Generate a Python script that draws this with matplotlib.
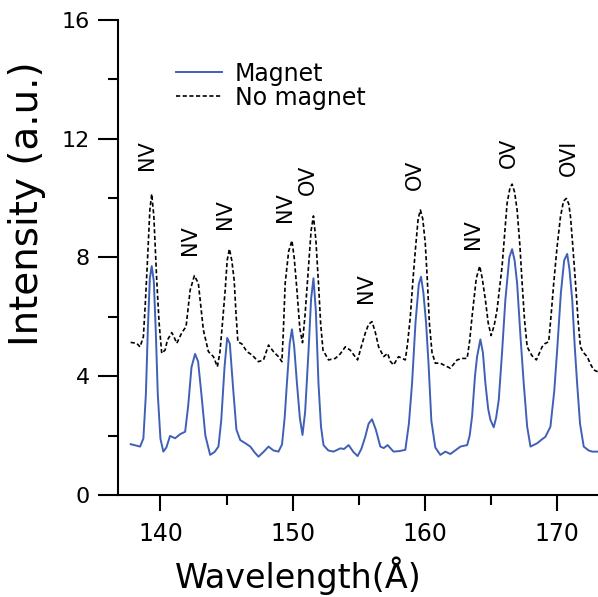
import matplotlib.pyplot as plt
from matplotlib.ticker import MultipleLocator

# Magnet spectrum
wl_magnet = [137.75, 138.2, 138.46, 138.71, 138.9, 139.05, 139.2, 139.34, 139.5, 139.65, 139.8, 140.0,
             140.22, 140.45, 140.73, 141.11, 141.5, 141.87, 142.1, 142.35, 142.62, 142.85, 143.1, 143.4,
             143.76, 144.1, 144.39, 144.6, 144.85, 145.05, 145.25, 145.5, 145.75, 146.04, 146.4, 146.8,
             147.1, 147.42, 147.8, 148.18, 148.55, 148.93, 149.2, 149.4, 149.57, 149.78, 149.95, 150.12,
             150.33, 150.55, 150.75, 150.95, 151.21, 151.4, 151.58, 151.76, 151.96, 152.15, 152.34, 152.7,
             153.1, 153.61, 153.9, 154.24, 154.6, 154.92, 155.2, 155.5, 155.75, 156.01, 156.3, 156.64,
             156.9, 157.19, 157.64, 158.1, 158.53, 158.8, 159.04, 159.3, 159.55, 159.72, 159.9, 160.1,
             160.29, 160.5, 160.8, 161.18, 161.56, 161.94, 162.3, 162.7, 163.21, 163.4, 163.58, 163.8,
             163.96, 164.21, 164.4, 164.59, 164.8, 164.97, 165.22, 165.4, 165.6, 165.85, 166.1, 166.4,
             166.61, 166.8, 166.99, 167.25, 167.49, 167.75, 168.0, 168.5, 168.8, 169.13, 169.51, 169.8,
             170.02, 170.3, 170.55, 170.78, 170.95, 171.16, 171.35, 171.53, 171.75, 172.03, 172.4, 172.67,
             173.1]
int_magnet = [1.71, 1.66, 1.63, 1.90, 3.4, 5.6, 7.3, 7.71, 7.2, 5.5, 3.4, 1.9,
              1.46, 1.6, 1.99, 1.91, 2.05, 2.13, 3.0, 4.3, 4.75, 4.5, 3.4, 2.0,
              1.35, 1.45, 1.63, 2.5, 4.3, 5.29, 5.1, 3.6, 2.2, 1.85, 1.75, 1.63,
              1.45, 1.29, 1.45, 1.63, 1.5, 1.46, 1.7, 2.6, 3.76, 5.1, 5.58, 5.0,
              3.76, 2.6, 2.02, 2.8, 4.88, 6.6, 7.30, 6.2, 3.76, 2.3, 1.68, 1.5,
              1.46, 1.57, 1.55, 1.68, 1.45, 1.31, 1.55, 1.96, 2.4, 2.55, 2.2, 1.63,
              1.58, 1.68, 1.46, 1.48, 1.52, 2.4, 3.76, 5.8, 7.1, 7.35, 6.8, 5.8,
              4.4, 2.5, 1.6, 1.35, 1.46, 1.38, 1.5, 1.63, 1.68, 2.0, 2.64, 4.0,
              4.66, 5.24, 4.8, 3.76, 2.9, 2.53, 2.28, 2.6, 3.20, 4.8, 6.57, 8.0,
              8.28, 7.9, 7.13, 5.3, 3.76, 2.3, 1.63, 1.74, 1.85, 1.96, 2.30, 3.5,
              4.88, 6.8, 7.9, 8.12, 7.6, 6.57, 5.0, 3.76, 2.4, 1.63, 1.5, 1.46,
              1.46]

# No magnet spectrum
wl_nomag = [137.75, 138.2, 138.46, 138.71, 138.85, 139.01, 139.2, 139.34, 139.5, 139.72, 139.9, 140.10,
            140.35, 140.53, 140.86, 141.05, 141.24, 141.62, 141.94, 142.1, 142.25, 142.57, 142.87, 143.05,
            143.25, 143.63, 144.01, 144.31, 144.5, 144.65, 144.9, 145.05, 145.22, 145.4, 145.58, 145.72,
            145.86, 146.16, 146.54, 146.92, 147.42, 147.8, 148.18, 148.55, 148.93, 149.19, 149.3, 149.44,
            149.7, 149.95, 150.12, 150.33, 150.55, 150.75, 150.95, 151.21, 151.4, 151.58, 151.76, 151.96,
            152.12, 152.30, 152.72, 153.23, 153.6, 153.99, 154.36, 154.92, 155.2, 155.50, 155.75, 156.01,
            156.25, 156.51, 156.89, 157.19, 157.4, 157.64, 158.02, 158.3, 158.53, 158.7, 158.91, 159.1,
            159.29, 159.5, 159.67, 159.85, 160.04, 160.2, 160.35, 160.55, 160.8, 161.18, 161.43, 161.94,
            162.45, 162.82, 163.21, 163.4, 163.58, 163.9, 164.16, 164.35, 164.59, 164.8, 165.02, 165.25,
            165.47, 165.85, 166.05, 166.23, 166.45, 166.61, 166.8, 166.99, 167.2, 167.37, 167.55, 167.75,
            168.1, 168.45, 168.88, 169.1, 169.38, 169.55, 169.76, 170.0, 170.27, 170.5, 170.72, 170.9,
            171.03, 171.2, 171.41, 171.6, 171.78, 172.0, 172.29, 172.55, 172.79, 173.1]
int_nomag = [5.14, 5.11, 4.99, 5.33, 6.4, 7.80, 9.6, 10.14, 9.4, 7.24, 5.8, 4.77,
             4.88, 5.22, 5.47, 5.3, 5.11, 5.47, 5.67, 6.3, 6.90, 7.39, 7.13, 6.4,
             5.56, 4.83, 4.66, 4.32, 4.8, 5.56, 6.90, 7.9, 8.29, 7.9, 7.24, 6.1,
             5.16, 5.09, 4.83, 4.72, 4.49, 4.55, 5.05, 4.83, 4.66, 4.49, 5.5, 7.13,
             8.2, 8.57, 8.0, 6.90, 5.6, 5.13, 6.1, 7.69, 8.9, 9.40, 8.6, 7.13,
             5.8, 4.88, 4.55, 4.60, 4.75, 4.99, 4.88, 4.55, 5.0, 5.45, 5.75, 5.84,
             5.5, 4.99, 4.66, 4.77, 4.5, 4.38, 4.66, 4.6, 4.55, 5.1, 6.01, 7.2,
             8.25, 9.3, 9.60, 9.3, 8.48, 7.2, 5.8, 4.8, 4.44, 4.44, 4.38, 4.27,
             4.55, 4.60, 4.60, 5.2, 6.01, 7.3, 7.71, 7.3, 6.57, 5.8, 5.37, 5.7,
             6.23, 7.69, 8.8, 9.82, 10.35, 10.47, 10.2, 9.60, 8.4, 7.13, 5.9, 4.99,
             4.7, 4.55, 4.99, 5.1, 5.16, 6.0, 7.13, 8.3, 9.37, 9.9, 9.99, 9.8,
             9.37, 8.4, 7.13, 5.9, 4.99, 4.8, 4.66, 4.4, 4.21, 4.15]

# line identifications
line_labels = ['NV', 'NV', 'NV', 'NV', 'OV', 'NV', 'OV', 'NV', 'OV', 'OVI']
label_x = [138.97, 142.25, 144.90, 149.44, 151.18, 155.57, 159.29, 163.68, 166.33, 170.89]
label_y = [11.45, 8.59, 9.46, 9.70, 10.61, 6.97, 10.78, 8.79, 11.54, 11.35]

fig = plt.figure(figsize=(5.98, 5.97), dpi=100)
ax = fig.add_axes([118 / 598, 0.1709, 1 - 118 / 598, 0.7956])

ax.plot(wl_magnet, int_magnet, color='#4060b8', lw=1.4, label='Magnet')
ax.plot(wl_nomag, int_nomag, color='black', lw=1.2, linestyle=(0, (2.5, 1.5)), label='No magnet')

for txt, x, y in zip(line_labels, label_x, label_y):
    ax.text(x, y, txt, rotation=90, ha='center', va='center', fontsize=15)

ax.set_xlim(136.79, 173.11)
ax.set_ylim(0, 16)
ax.xaxis.set_major_locator(MultipleLocator(10))
ax.xaxis.set_minor_locator(MultipleLocator(5))
ax.yaxis.set_major_locator(MultipleLocator(4))
ax.yaxis.set_minor_locator(MultipleLocator(2))

for side in ['top', 'right']:
    ax.spines[side].set_visible(False)
for side in ['left', 'bottom']:
    ax.spines[side].set_linewidth(1.5)

ax.tick_params(axis='x', which='major', length=11.5, width=1.5, pad=8, labelsize=17)
ax.tick_params(axis='x', which='minor', length=7, width=1.5)
ax.tick_params(axis='y', which='major', length=14.4, width=1.5, pad=6, labelsize=16)
ax.tick_params(axis='y', which='minor', length=7.2, width=1.5)

ax.set_xlabel('Wavelength(Å)', fontsize=24)
ax.set_ylabel('Intensity (a.u.)', fontsize=28)
ax.xaxis.set_label_coords(0.376, -0.13)
ax.yaxis.set_label_coords(-0.15, 0.613)

ax.legend(loc='upper left', bbox_to_anchor=(175.7 / 598, 1 - 61.5 / 597), bbox_transform=fig.transFigure,
          frameon=False, fontsize=17, handlelength=1.95, handletextpad=0.56, labelspacing=0.0,
          borderpad=0, borderaxespad=0)

plt.savefig('out.png', dpi=100)
